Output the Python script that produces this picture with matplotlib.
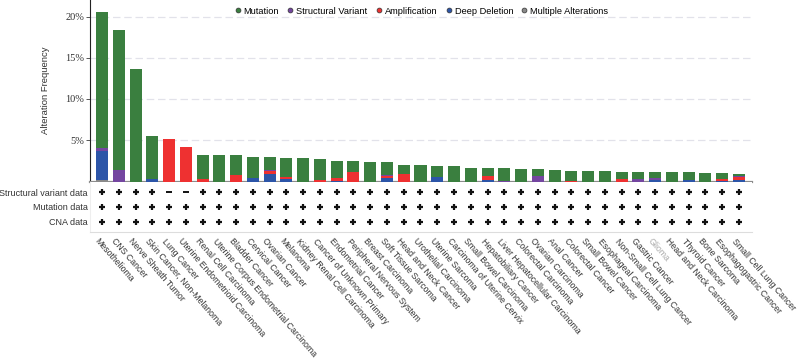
import numpy as np
import matplotlib.pyplot as plt
from matplotlib.lines import Line2D

# Cancer types (x categories)
cancer_types = [
    'Mesothelioma', 'CNS Cancer', 'Nerve Sheath Tumor', 'Skin Cancer, Non-Melanoma',
    'Lung Cancer', 'Uterine Endometrioid Carcinoma', 'Renal Cell Carcinoma',
    'Uterine Corpus Endometrial Carcinoma', 'Bladder Cancer', 'Cervical Cancer',
    'Ovarian Cancer', 'Melanoma', 'Kidney Renal Cell Carcinoma', 'Cancer of Unknown Primary',
    'Endometrial Cancer', 'Peripheral Nervous System', 'Breast Carcinoma',
    'Soft Tissue Sarcoma', 'Head and Neck Cancer', 'Urothelial Carcinoma', 'Uterine Sarcoma',
    'Carcinoma of Uterine Cervix', 'Small Bowel Carcinoma', 'Hepatobiliary Cancer',
    'Liver Hepatocellular Carcinoma', 'Colorectal Carcinoma', 'Ovarian Carcinoma',
    'Anal Cancer', 'Colorectal Cancer', 'Small Bowel Cancer', 'Esophageal Carcinoma',
    'Non-Small Cell Lung Cancer', 'Gastric Cancer', 'Glioma', 'Head and Neck Carcinoma',
    'Thyroid Cancer', 'Bone Sarcoma', 'Esophagogastric Cancer', 'Small Cell Lung Cancer'
]

# Alteration frequency segments (%), stacked bottom -> top
multiple = [0.2] + [0] * 38
deep_del = [3.45, 0, 0, 0.25, 0, 0, 0, 0, 0, 0.4,
            0.85, 0.25, 0, 0, 0.1, 0, 0, 0.45, 0, 0,
            0.5, 0, 0, 0.15, 0, 0, 0, 0, 0, 0,
            0, 0, 0, 0.2, 0, 0.15, 0, 0.1, 0.2]
amplification = [0, 0, 0, 0, 5.2, 4.15, 0.3, 0, 0.75, 0,
                 0.45, 0.3, 0, 0.15, 0.35, 1.15, 0, 0.2, 0.95, 0,
                 0, 0, 0, 0.55, 0, 0, 0, 0, 0.1, 0,
                 0, 0.25, 0, 0, 0, 0, 0, 0.2, 0.35]
struct_var = [0.45, 1.45, 0, 0, 0, 0, 0, 0, 0, 0,
              0.15, 0, 0, 0, 0, 0, 0, 0.15, 0, 0,
              0, 0, 0, 0, 0.1, 0, 0.65, 0, 0, 0,
              0, 0, 0.3, 0.2, 0, 0, 0, 0, 0.08]
mutation = [16.4, 16.95, 13.6, 5.23, 0, 0, 2.97, 3.27, 2.43, 2.54,
            1.49, 2.31, 2.86, 2.55, 2.01, 1.31, 2.4, 1.54, 1.1, 2.05,
            1.43, 1.85, 1.65, 0.99, 1.55, 1.57, 0.84, 1.4, 1.23, 1.33,
            1.29, 0.96, 0.83, 0.73, 1.1, 0.95, 1.05, 0.75, 0.29]

# Profiled data rows (1 = '+', 0 = '-')
row_labels = ['Structural variant data', 'Mutation data', 'CNA data']
sv_profiled = [1, 1, 1, 1, 0, 0] + [1] * 33
mut_profiled = [1] * 39
cna_profiled = [1] * 39

colors = {
    'Mutation': '#3a7f3f',
    'Structural Variant': '#7446a0',
    'Amplification': '#ee3131',
    'Deep Deletion': '#2c55a8',
    'Multiple Alterations': '#8a8a8a',
}

fig = plt.figure(figsize=(8, 3.6), dpi=100)
ax = fig.add_axes([90 / 800, (360 - 181.5) / 360, (752 - 90) / 800, 181.5 / 360])
tab = fig.add_axes([90 / 800, (360 - 232) / 360, (752 - 90) / 800, (232 - 182) / 360])

x = np.arange(len(cancer_types))
bottom = np.zeros(len(x))
series = [('Multiple Alterations', multiple), ('Deep Deletion', deep_del),
          ('Amplification', amplification), ('Structural Variant', struct_var),
          ('Mutation', mutation)]
for name, vals in series:
    vals = np.array(vals, dtype=float)
    ax.bar(x, vals, bottom=bottom, width=0.72, color=colors[name],
           edgecolor='none', zorder=3)
    bottom += vals

ax.set_xlim(-0.72, len(x) - 1 + 0.78)
ax.set_ylim(0, 22)
ax.set_yticks([5, 10, 15, 20])
ax.set_yticklabels(['5%', '10%', '15%', '20%'], family='Liberation Serif', fontsize=7.5,
                   color='#333333')
ax.set_xticks([])
ax.grid(axis='y', linestyle=(0, (6, 3)), color='#e2e2ea', linewidth=0.9, zorder=0)
ax.spines['top'].set_visible(False)
ax.spines['right'].set_visible(False)
ax.spines['left'].set_color('#222222')
ax.spines['bottom'].set_color('#8c8c8c')
ax.spines['bottom'].set_linewidth(1.6)
ax.tick_params(axis='y', length=3, width=0.7, pad=1, color='#555555')
ax.set_ylabel('Alteration Frequency', family='Liberation Sans', fontsize=6.8,
              color='#333333', labelpad=11)

# legend on top
handles = [Line2D([], [], marker='o', linestyle='none', markersize=3.5,
                  markerfacecolor=colors[k], markeredgecolor='#333333',
                  markeredgewidth=0.5, label=k)
           for k in ['Mutation', 'Structural Variant', 'Amplification',
                     'Deep Deletion', 'Multiple Alterations']]
fig.legend(handles=handles, loc='upper center', bbox_to_anchor=(0.526, 1.005), ncol=5,
           frameon=False, prop={'family': 'Liberation Sans', 'size': 6.7},
           handletextpad=0.15, columnspacing=0.7, handlelength=1.0)

# profiled data table
tab.set_xlim(ax.get_xlim())
tab.set_ylim(2.7, -0.7)
for r, flags in enumerate([sv_profiled, mut_profiled, cna_profiled]):
    flags = np.array(flags)
    tab.plot(x[flags == 1], np.full((flags == 1).sum(), r), linestyle='none',
             marker='+', markersize=5, markeredgewidth=1.6, color='#111111')
    tab.plot(x[flags == 0], np.full((flags == 0).sum(), r), linestyle='none',
             marker='_', markersize=4.5, markeredgewidth=1.4, color='#111111')
tab.set_yticks(range(len(row_labels)))
tab.set_yticklabels(row_labels, family='Liberation Sans', fontsize=6.5, color='#333333')
tab.tick_params(axis='y', length=0, pad=1.5)
tab.set_xticks(x)
tab.set_xticklabels([])
tab.tick_params(axis='x', length=0)
for s in ['top', 'right']:
    tab.spines[s].set_visible(False)
tab.spines['bottom'].set_color('#dddddd')
tab.spines['left'].set_color('#eeeeee')

# rotated category labels
for i, name in enumerate(cancer_types):
    tab.annotate(name, xy=(i, 0), xycoords=('data', 'axes fraction'),
                 xytext=(-1.5, -3.5), textcoords='offset points',
                 rotation=-49, ha='left', va='top', rotation_mode='anchor',
                 family='Liberation Sans', fontsize=6.3,
                 color='#aaaaaa' if name == 'Glioma' else '#333333')

plt.savefig('out.png', dpi=100)
